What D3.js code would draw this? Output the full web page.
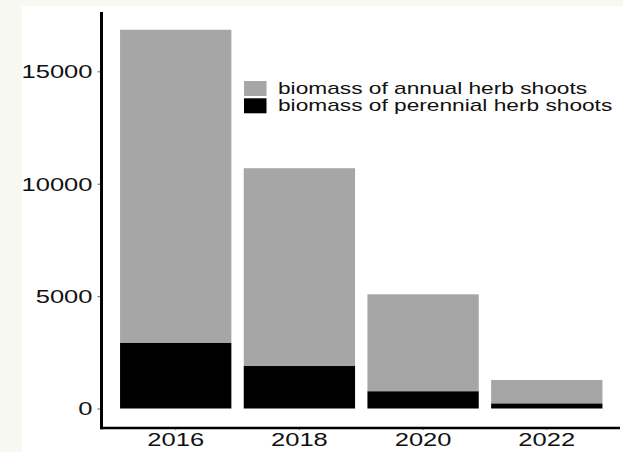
<!DOCTYPE html>
<html>
<head>
<meta charset="utf-8">
<script src="https://cdn.jsdelivr.net/npm/d3@7"></script>
<style>
  html, body { margin: 0; padding: 0; background: #f7f8f1; }
  svg { display: block; }
  text { font-family: "Liberation Sans", Arial, sans-serif; fill: #111; }
</style>
</head>
<body>
<script>
// Shoot biomass by survey year, stacked: perennial at the base, annual on top
const years = ["2016", "2018", "2020", "2022"];
const perennial = [2930, 1890, 770, 230];
const annual = [13920, 8800, 4310, 1040];
const yTicks = [0, 5000, 10000, 15000];
const legendLabels = ["biomass of annual herb shoots", "biomass of perennial herb shoots"];
const colors = { annual: "#a6a6a6", perennial: "#000000" };

const W = 623, H = 452;
const stretch = 1.42; // horizontal text stretch used by this figure

const svg = d3.select("body").append("svg").attr("width", W).attr("height", H);

// panel (white) area
svg.append("rect").attr("x", 22).attr("y", 6).attr("width", W - 22).attr("height", H - 6).attr("fill", "#ffffff");

const rows = years.map((y, i) => ({ year: y, perennial: perennial[i], annual: annual[i] }));
const stacked = d3.stack().keys(["perennial", "annual"])(rows);

const x = d3.scaleBand().domain(years).range([101.5, 621]).paddingInner(0.1).paddingOuter(0.15);
const y = d3.scaleLinear().domain([-823, 17640]).range([427, 12]);

// bars
svg.append("g").selectAll("g").data(stacked).join("g")
  .attr("fill", d => colors[d.key])
  .selectAll("rect").data(d => d).join("rect")
  .attr("x", d => x(d.data.year))
  .attr("width", x.bandwidth())
  .attr("y", d => y(d[1]))
  .attr("height", d => y(d[0]) - y(d[1]));

// y axis
const yAxis = svg.append("g").attr("transform", "translate(101.5,0)")
  .call(d3.axisLeft(y).tickValues(yTicks).tickSize(4).tickPadding(5).tickFormat(d3.format("d")));
yAxis.select(".domain").remove();
yAxis.selectAll(".tick line").attr("stroke", "#666").attr("stroke-width", 1);
yAxis.selectAll(".tick text")
  .attr("font-size", 18).attr("fill", "#111").attr("dy", "0.36em")
  .attr("transform", function () {
    const tx = +d3.select(this).attr("x");
    return `translate(${tx},0) scale(${stretch},1) translate(${-tx},0)`;
  });

// x axis
const xAxis = svg.append("g").attr("transform", "translate(0,428)")
  .call(d3.axisBottom(x).tickSize(2).tickPadding(3));
xAxis.select(".domain").remove();
xAxis.selectAll(".tick line").attr("stroke", "#666");
xAxis.selectAll(".tick text")
  .attr("font-size", 18).attr("fill", "#111").attr("dy", "0.75em")
  .attr("transform", `scale(${stretch},1)`)
  .attr("x", 0);

// axis lines
svg.append("line").attr("x1", 101.5).attr("x2", 101.5).attr("y1", 12).attr("y2", 429.2)
  .attr("stroke", "#000").attr("stroke-width", 3);
svg.append("line").attr("x1", 100).attr("x2", 620).attr("y1", 428).attr("y2", 428)
  .attr("stroke", "#000").attr("stroke-width", 2.5);

// legend
const legend = svg.append("g").attr("transform", "translate(244,81)");
const legendKeys = [colors.annual, colors.perennial];
legendLabels.forEach((lab, i) => {
  const g = legend.append("g").attr("transform", `translate(0,${i * 17.3})`);
  g.append("rect").attr("width", 22.5).attr("height", 15).attr("fill", legendKeys[i]);
  g.append("text").attr("x", 0).attr("y", 7.5).attr("dy", "0.35em")
    .attr("font-size", 16)
    .attr("transform", `translate(34,0) scale(${stretch},1)`)
    .text(lab);
});
</script>
</body>
</html>
